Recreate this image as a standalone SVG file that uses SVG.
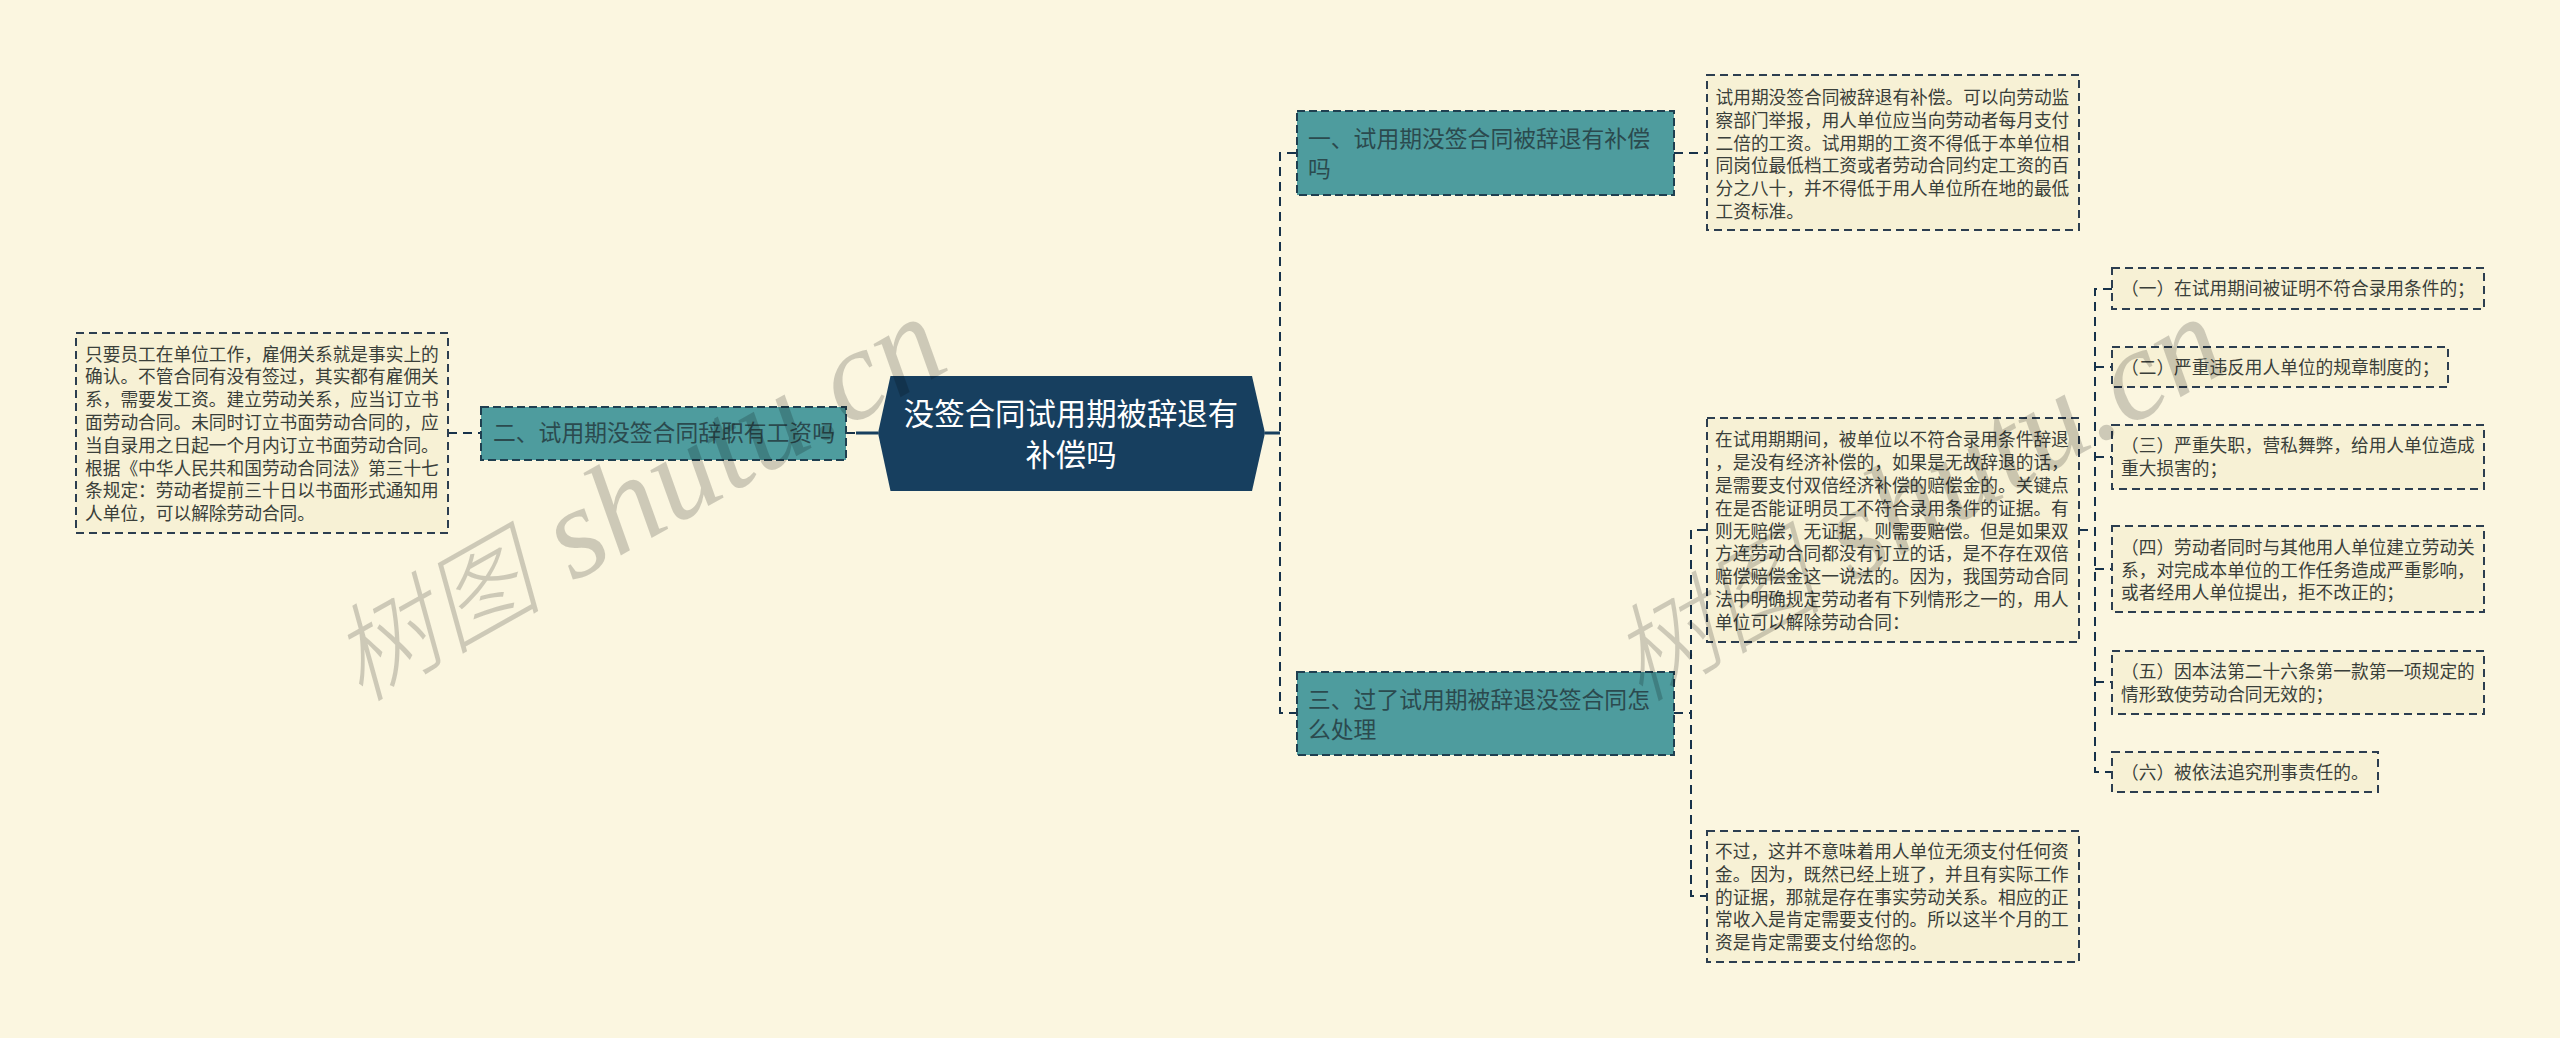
<svg xmlns="http://www.w3.org/2000/svg" width="2560" height="1038" viewBox="0 0 2560 1038">
<style>
text{font-family:"Noto Sans CJK SC","Liberation Sans",sans-serif}
.d rect{fill:#F7F1D5;stroke:#2C3E50;stroke-width:2;stroke-dasharray:8 5}
.d text{font-size:17.7px;fill:#3A3F3A}
.b rect{fill:#4E9C9E;stroke:#1F3F50;stroke-width:2;stroke-dasharray:8 4}
.b text{font-size:22.8px;fill:#2B4A4E}
.c text{font-size:30.4px;fill:#FFFFFF;text-anchor:middle}
.l{fill:none;stroke:#17324A;stroke-width:2;stroke-dasharray:9 6}
.s{fill:none;stroke:#173F5F;stroke-width:3}
.w{font-family:"Liberation Serif","Noto Sans CJK SC",serif;font-style:italic;font-size:130px;fill:#000;fill-opacity:.18}
.w .h{font-family:"Noto Sans CJK SC",serif;font-size:106px;font-weight:300}
</style>
<rect width="2560" height="1038" fill="#FBF6E0"/>
<g id="connectors">
<path class="s" d="M856 433H878M1265 433H1280"/>
<path class="l" d="M846 433H856"/>
<path class="l" d="M1296 153H1280V713H1296"/>
<path class="l" d="M1674 153H1706"/>
<path class="l" d="M448 433H481"/>
<path class="l" d="M1706 530H1691V896H1706M1674 713H1691"/>
<path class="l" d="M2112 289H2095V772H2112M2079 530H2095M2095 367H2112M2095 457H2112M2095 569H2112M2095 682H2112"/>
</g>
<g id="root" class="c">
<polygon points="890.5,376 1252,376 1265,433 1252,491 890.5,491 878,433" fill="#173F5F"/>
<text x="1071" y="425">没签合同试用期被辞退有</text>
<text x="1071" y="466">补偿吗</text>
</g>
<g id="n1" class="b">
<rect x="1297" y="111" width="377" height="84"/>
<text x="1308" y="147">一、试用期没签合同被辞退有补偿</text>
<text x="1308" y="177">吗</text>
</g>
<g id="n2" class="b">
<rect x="481" y="407" width="365" height="53"/>
<text x="493" y="441">二、试用期没签合同辞职有工资吗</text>
</g>
<g id="n3" class="b">
<rect x="1297" y="672" width="377" height="83"/>
<text x="1308" y="708">三、过了试用期被辞退没签合同怎</text>
<text x="1308" y="738">么处理</text>
</g>
<g id="d1" class="d">
<rect x="1707" y="75" width="372" height="155"/>
<text x="1715.5" y="104">试用期没签合同被辞退有补偿。可以向劳动监</text>
<text x="1715.5" y="126.8">察部门举报，用人单位应当向劳动者每月支付</text>
<text x="1715.5" y="149.6">二倍的工资。试用期的工资不得低于本单位相</text>
<text x="1715.5" y="172.4">同岗位最低档工资或者劳动合同约定工资的百</text>
<text x="1715.5" y="195.2">分之八十，并不得低于用人单位所在地的最低</text>
<text x="1715.5" y="218">工资标准。</text>
</g>
<g id="d2" class="d">
<rect x="76" y="333" width="372" height="200"/>
<text x="85" y="360.5">只要员工在单位工作，雇佣关系就是事实上的</text>
<text x="85" y="383.3">确认。不管合同有没有签过，其实都有雇佣关</text>
<text x="85" y="406.1">系，需要发工资。建立劳动关系，应当订立书</text>
<text x="85" y="428.9">面劳动合同。未同时订立书面劳动合同的，应</text>
<text x="85" y="451.7">当自录用之日起一个月内订立书面劳动合同。</text>
<text x="85" y="474.5">根据《中华人民共和国劳动合同法》第三十七</text>
<text x="85" y="497.3">条规定：劳动者提前三十日以书面形式通知用</text>
<text x="85" y="520.1">人单位，可以解除劳动合同。</text>
</g>
<g id="d3" class="d">
<rect x="1707" y="418" width="372" height="224"/>
<text x="1715" y="446.3">在试用期期间，被单位以不符合录用条件辞退</text>
<text x="1715" y="469.1">，是没有经济补偿的，如果是无故辞退的话，</text>
<text x="1715" y="491.9">是需要支付双倍经济补偿的赔偿金的。关键点</text>
<text x="1715" y="514.7">在是否能证明员工不符合录用条件的证据。有</text>
<text x="1715" y="537.5">则无赔偿，无证据，则需要赔偿。但是如果双</text>
<text x="1715" y="560.3">方连劳动合同都没有订立的话，是不存在双倍</text>
<text x="1715" y="583.1">赔偿赔偿金这一说法的。因为，我国劳动合同</text>
<text x="1715" y="605.9">法中明确规定劳动者有下列情形之一的，用人</text>
<text x="1715" y="628.7">单位可以解除劳动合同：</text>
</g>
<g id="d4" class="d">
<rect x="1707" y="831" width="372" height="131"/>
<text x="1715" y="858">不过，这并不意味着用人单位无须支付任何资</text>
<text x="1715" y="880.8">金。因为，既然已经上班了，并且有实际工作</text>
<text x="1715" y="903.6">的证据，那就是存在事实劳动关系。相应的正</text>
<text x="1715" y="926.4">常收入是肯定需要支付的。所以这半个月的工</text>
<text x="1715" y="949.2">资是肯定需要支付给您的。</text>
</g>
<g id="i1" class="d">
<rect x="2112" y="268" width="372" height="41"/>
<text x="2121" y="295">（一）在试用期间被证明不符合录用条件的；</text>
</g>
<g id="i2" class="d">
<rect x="2112" y="347" width="336" height="40"/>
<text x="2121" y="374">（二）严重违反用人单位的规章制度的；</text>
</g>
<g id="i3" class="d">
<rect x="2112" y="425" width="372" height="64"/>
<text x="2121" y="452">（三）严重失职，营私舞弊，给用人单位造成</text>
<text x="2121" y="475">重大损害的；</text>
</g>
<g id="i4" class="d">
<rect x="2112" y="526" width="372" height="86"/>
<text x="2121" y="554">（四）劳动者同时与其他用人单位建立劳动关</text>
<text x="2121" y="576.5">系，对完成本单位的工作任务造成严重影响，</text>
<text x="2121" y="599">或者经用人单位提出，拒不改正的；</text>
</g>
<g id="i5" class="d">
<rect x="2112" y="651" width="372" height="63"/>
<text x="2121" y="678">（五）因本法第二十六条第一款第一项规定的</text>
<text x="2121" y="700.5">情形致使劳动合同无效的；</text>
</g>
<g id="i6" class="d">
<rect x="2112" y="752" width="266" height="40"/>
<text x="2121" y="779">（六）被依法追究刑事责任的。</text>
</g>
<g id="watermark">
<text class="w" transform="translate(360 703) rotate(-29.5)"><tspan class="h">树图</tspan> shutu.cn</text>
<text class="w" transform="translate(1640 703) rotate(-29.5)"><tspan class="h">树图</tspan> shutu.cn</text>
</g>
</svg>
